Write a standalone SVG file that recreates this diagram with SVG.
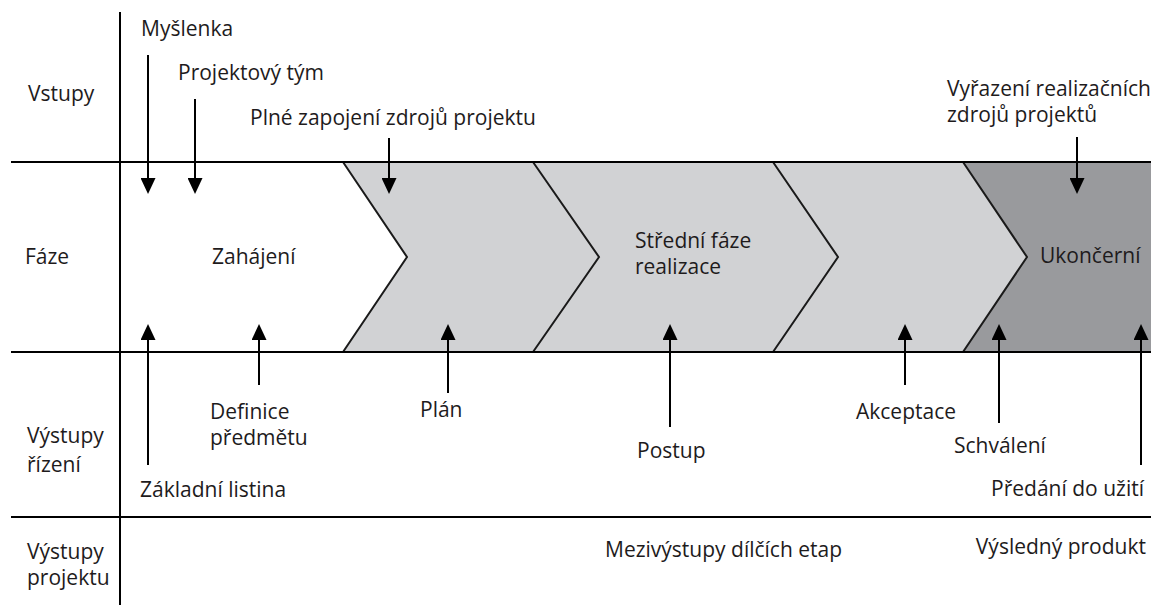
<svg xmlns="http://www.w3.org/2000/svg" width="1151" height="605" viewBox="0 0 1151 605">
<style>
text{font-family:"Open Sans","Liberation Sans",sans-serif;font-size:21px;fill:#1e1b1c}
.grid{stroke:#000;stroke-width:2;fill:none}
.edge{stroke:#1a1a1a;stroke-width:2;fill:none;stroke-linejoin:miter}
.arr{stroke:#000;stroke-width:2;fill:none;marker-end:url(#ah)}
.end{text-anchor:end}
</style>
<defs>
<marker id="ah" viewBox="0 0 16 15" refX="0" refY="7.5" markerWidth="16" markerHeight="15" markerUnits="userSpaceOnUse" orient="auto">
<path d="M0,0 L16,7.5 L0,15 Z" fill="#000"/>
</marker>
</defs>
<rect width="1151" height="605" fill="#fff"/>
<g id="phases">
<g id="phase-plan-realizace">
<polygon points="343,162 963,162 1027,257 963,352 343,352 407,257" fill="#d1d2d4"/>
</g>
<g id="phase-ukonceni">
<polygon points="963,162 1151,162 1151,352 963,352 1027,257" fill="#999a9d"/>
</g>
<polyline class="edge" points="343,162 407,257 343,352"/>
<polyline class="edge" points="533,162 599,257 533,352"/>
<polyline class="edge" points="773,162 838,257 773,352"/>
<polyline class="edge" points="963,162 1027,257 963,352"/>
</g>
<g id="grid">
<line class="grid" x1="11" y1="162" x2="1151" y2="162"/>
<line class="grid" x1="11" y1="352" x2="1151" y2="352"/>
<line class="grid" x1="11" y1="517" x2="1151" y2="517"/>
<line class="grid" x1="120" y1="12" x2="120" y2="605"/>
</g>
<g id="lane-labels">
<text x="28" y="101">Vstupy</text>
<text x="25" y="264">Fáze</text>
<text x="27" y="443">Výstupy<tspan x="27" dy="29">řízení</tspan></text>
<text x="27" y="559">Výstupy<tspan x="27" dy="26">projektu</tspan></text>
</g>
<g id="node-zahajeni"><text x="212" y="264">Zahájení</text></g>
<g id="node-stredni"><text x="635" y="248">Střední fáze<tspan x="635" dy="26">realizace</tspan></text></g>
<g id="node-ukonceni"><text x="1040" y="263">Ukončerní</text></g>
<g id="node-myslenka"><text x="141" y="36">Myšlenka</text></g>
<g id="node-tym"><text x="178" y="80">Projektový tým</text></g>
<g id="node-zapojeni"><text x="250" y="125">Plné zapojení zdrojů projektu</text></g>
<g id="node-vyrazeni"><text x="947" y="96">Vyřazení realizačních<tspan x="947" dy="26">zdrojů projektů</tspan></text></g>
<g id="node-definice"><text x="210" y="419">Definice<tspan x="210" dy="26">předmětu</tspan></text></g>
<g id="node-listina"><text x="140" y="497">Základní listina</text></g>
<g id="node-plan"><text x="420" y="417">Plán</text></g>
<g id="node-postup"><text x="637" y="458">Postup</text></g>
<g id="node-akceptace"><text x="856" y="419">Akceptace</text></g>
<g id="node-schvaleni"><text x="954" y="453">Schválení</text></g>
<g id="node-predani"><text class="end" x="1144" y="496">Předání do užití</text></g>
<g id="node-mezivystupy"><text x="605" y="557">Mezivýstupy dílčích etap</text></g>
<g id="node-produkt"><text class="end" x="1146" y="554">Výsledný produkt</text></g>
<g id="connectors">
<line class="arr" x1="148" y1="55" x2="148" y2="178"/>
<line class="arr" x1="195" y1="99" x2="195" y2="178"/>
<line class="arr" x1="389" y1="138" x2="389" y2="178"/>
<line class="arr" x1="1077" y1="137" x2="1077" y2="178"/>
<line class="arr" x1="148" y1="465" x2="148" y2="340"/>
<line class="arr" x1="259" y1="385" x2="259" y2="340"/>
<line class="arr" x1="448" y1="393" x2="448" y2="340"/>
<line class="arr" x1="670" y1="427" x2="670" y2="340"/>
<line class="arr" x1="905" y1="385" x2="905" y2="340"/>
<line class="arr" x1="999" y1="423" x2="999" y2="340"/>
<line class="arr" x1="1141" y1="465" x2="1141" y2="340"/>
</g>
</svg>
